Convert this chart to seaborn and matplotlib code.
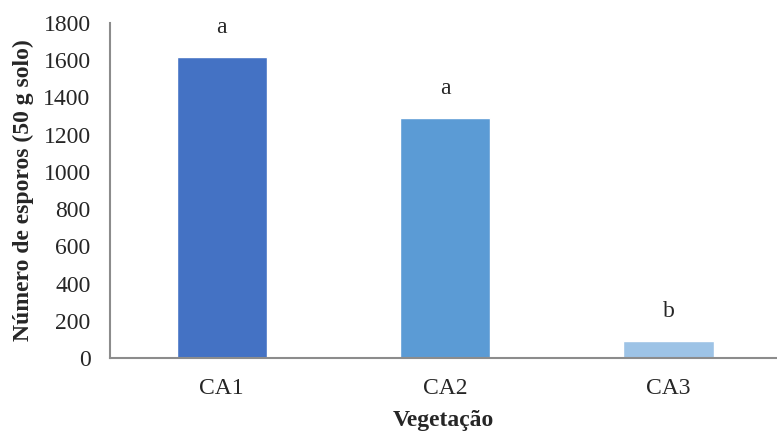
import matplotlib
matplotlib.use("Agg")
import matplotlib.pyplot as plt
import seaborn as sns
import pandas as pd

vegetacao = ["CA1", "CA2", "CA3"]
esporos = [1617, 1290, 91]
letras = ["a", "a", "b"]
cores = ["#4472C4", "#5B9BD5", "#9DC3E6"]

sns.set_style("white")
plt.rcParams['font.family'] = ['Liberation Serif', 'DejaVu Serif']

df = pd.DataFrame({"Vegetação": vegetacao, "Esporos": esporos})

fig = plt.figure(figsize=(7.77, 4.33), dpi=100)
ax = fig.add_axes([0.1416, 0.173, 0.857, 0.774])
sns.barplot(data=df, x="Vegetação", y="Esporos", hue="Vegetação",
            palette=cores, width=0.405, saturation=1, legend=False, ax=ax)

for i, (v, l) in enumerate(zip(esporos, letras)):
    ax.text(i, v + 160, l, ha="center", va="center", fontsize=17)

ax.set_ylim(0, 1800)
ax.set_yticks(range(0, 1801, 200))
ax.set_xlim(-0.5, 2.48)
ax.tick_params(axis="both", labelsize=17, length=0)
ax.tick_params(axis="y", pad=14)
ax.tick_params(axis="x", pad=14)
ax.set_xlabel("Vegetação", fontsize=17, fontweight="bold", labelpad=8)
ax.set_ylabel("Número de esporos (50 g solo)", fontsize=17, fontweight="bold", labelpad=7)

for s in ["top", "right"]:
    ax.spines[s].set_visible(False)
for s in ["left", "bottom"]:
    ax.spines[s].set_color("#8c8c8c")
    ax.spines[s].set_linewidth(1.5)

fig.savefig("out.png", dpi=100)
